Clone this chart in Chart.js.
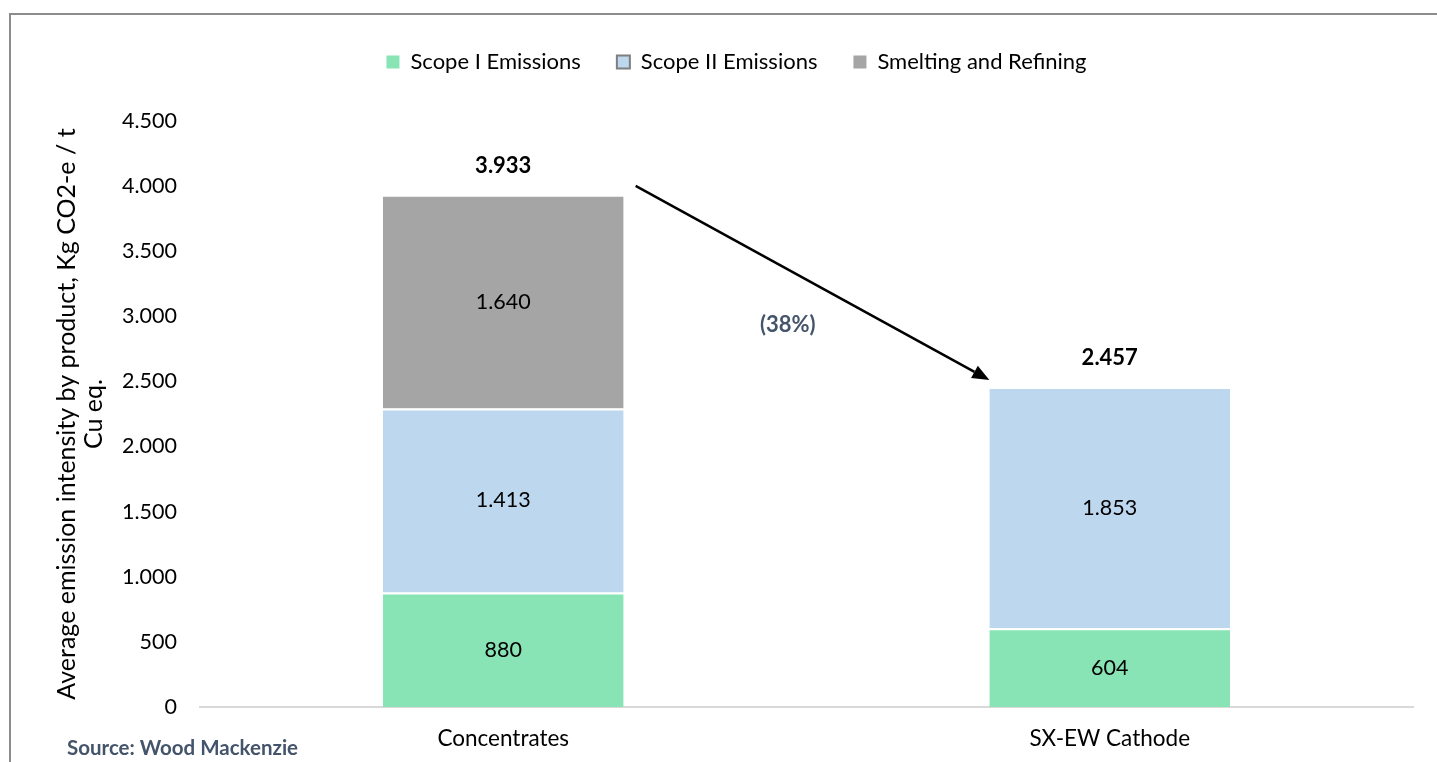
<!DOCTYPE html>
<html>
<head>
<meta charset="utf-8">
<script src="https://cdn.jsdelivr.net/npm/chart.js@4.4.1/dist/chart.umd.min.js"></script>
<style>
  html, body { margin: 0; padding: 0; background: #fff; overflow: hidden; }
  #frame { position: absolute; left: 9px; top: 13px; width: 1500px; height: 800px; border: 2px solid #8c8c8c; }
  #wrap { position: absolute; left: 0; top: 0; width: 1437px; height: 762px; }
  #source { position: absolute; left: 67px; top: 735px; font: bold 20.5px Lato, sans-serif; color: #44546a; }
</style>
</head>
<body>
<div id="frame"></div>
<div id="wrap"><canvas id="chart"></canvas></div>
<div id="source">Source: Wood Mackenzie</div>
<script>
// data
const categories = ['Concentrates', 'SX-EW Cathode'];
const seriesNames = ['Scope I Emissions', 'Scope II Emissions', 'Smelting and Refining'];
const scope1 = [880, 604];
const scope2 = [1413, 1853];
const smelting = [1640, null];
const yMin = 0, yMax = 4500, yStep = 500;
const yTitle = ['Average emission intensity by product, Kg CO2-e / t', 'Cu eq.'];

const FONT = 'Lato, "Open Sans", sans-serif';
const colors = ['#88e3b5', '#bdd7ee', '#a5a5a5'];

// 1234 -> "1.234"
function fmt(n) {
    return String(Math.round(n)).replace(/\B(?=(\d{3})+(?!\d))/g, '.');
}

const totals = categories.map((_, i) => (scope1[i] || 0) + (scope2[i] || 0) + (smelting[i] || 0));
const change = (totals[1] - totals[0]) / totals[0];

// value labels inside segments + bold totals above stacks
const labelsPlugin = {
    id: 'valueLabels',
    afterDatasetsDraw(chart) {
        const ctx = chart.ctx;
        const yScale = chart.scales.y;
        ctx.save();
        ctx.textAlign = 'center';
        ctx.textBaseline = 'middle';
        ctx.fillStyle = '#000';
        ctx.font = '21.5px ' + FONT;
        chart.data.datasets.forEach((ds, di) => {
            const meta = chart.getDatasetMeta(di);
            meta.data.forEach((bar, i) => {
                const v = ds.data[i];
                if (!v) return;
                ctx.fillText(fmt(v), bar.x, (bar.y + bar.base) / 2);
            });
        });
        ctx.font = 'bold 22px ' + FONT;
        const meta0 = chart.getDatasetMeta(0);
        totals.forEach((t, i) => {
            const x = meta0.data[i].x;
            ctx.fillText(fmt(t), x, yScale.getPixelForValue(t) - 29);
        });
        ctx.restore();
    }
};

// arrow from first stack to second with % change
const arrowPlugin = {
    id: 'changeArrow',
    afterDatasetsDraw(chart) {
        const ctx = chart.ctx;
        const yScale = chart.scales.y;
        const bars = chart.getDatasetMeta(0).data;
        const x0 = bars[0].x + bars[0].width / 2 + 12;
        const y0 = yScale.getPixelForValue(totals[0]) - 9;
        const x1 = bars[1].x - bars[1].width / 2;
        const y1 = yScale.getPixelForValue(totals[1]) - 7;
        const ang = Math.atan2(y1 - y0, x1 - x0);
        const headLen = 17, headW = 7;
        const bx = x1 - headLen * Math.cos(ang), by = y1 - headLen * Math.sin(ang);
        ctx.save();
        ctx.strokeStyle = '#000';
        ctx.lineWidth = 2.5;
        ctx.beginPath();
        ctx.moveTo(x0, y0);
        ctx.lineTo(bx, by);
        ctx.stroke();
        ctx.fillStyle = '#000';
        ctx.beginPath();
        ctx.moveTo(x1, y1);
        ctx.lineTo(bx + headW * Math.sin(ang), by - headW * Math.cos(ang));
        ctx.lineTo(bx - headW * Math.sin(ang), by + headW * Math.cos(ang));
        ctx.closePath();
        ctx.fill();
        // label under the line
        const t = 0.43;
        ctx.font = 'bold 22px ' + FONT;
        ctx.fillStyle = '#44546a';
        ctx.textAlign = 'center';
        ctx.textBaseline = 'middle';
        ctx.fillText('(' + Math.round(Math.abs(change) * 100) + '%)', x0 + t * (x1 - x0), y0 + t * (y1 - y0) + 56);
        ctx.restore();
    }
};

// legend block takes the space above the plot, nudged right like the original
const legendPlugin = {
    id: 'legendTweak',
    beforeInit(chart) {
        const origFit = chart.legend.fit;
        chart.legend.fit = function () {
            origFit.call(this);
            this.height = 121 - 15;
        };
    },
    afterLayout(chart) {
        chart.legend.left += 30;
        chart.legend.right += 30;
    }
};

const chart = new Chart(document.getElementById('chart'), {
    type: 'bar',
    data: {
        labels: categories,
        datasets: [scope1, scope2, smelting].map((d, i) => ({
            label: seriesNames[i],
            data: d,
            backgroundColor: colors[i],
            borderColor: '#ffffff',
            borderWidth: { top: 2 },
            borderSkipped: 'bottom',
            barPercentage: 1,
            categoryPercentage: 0.397
        }))
    },
    options: {
        responsive: true,
        maintainAspectRatio: false,
        animation: false,
        layout: { padding: { top: 15, right: 24, bottom: 0, left: 0 } },
        plugins: {
            tooltip: { enabled: false },
            legend: {
                position: 'top',
                labels: {
                    font: { family: FONT, size: 22 },
                    color: '#000',
                    boxWidth: 13,
                    boxHeight: 13,
                    padding: 36,
                    generateLabels(chart) {
                        const items = Chart.defaults.plugins.legend.labels.generateLabels(chart);
                        items.forEach((it, i) => {
                            it.strokeStyle = i === 1 ? '#7f7f7f' : it.fillStyle;
                            it.lineWidth = i === 1 ? 2 : 0;
                        });
                        return items;
                    }
                }
            }
        },
        scales: {
            x: {
                stacked: true,
                grid: { display: false },
                border: { color: '#d9d9d9', width: 2 },
                ticks: { font: { family: FONT, size: 22.5 }, color: '#000', padding: 10 },
                afterFit(scale) { scale.height = 55; }
            },
            y: {
                stacked: true,
                min: yMin,
                max: yMax,
                grid: { display: false },
                border: { display: false },
                ticks: {
                    stepSize: yStep,
                    font: { family: FONT, size: 21.5 },
                    color: '#000',
                    padding: 15,
                    callback: v => fmt(v)
                },
                title: {
                    display: true,
                    text: yTitle,
                    font: { family: FONT, size: 25, lineHeight: 1.06 },
                    color: '#000',
                    padding: { top: 54, bottom: 0 }
                },
                afterFit(scale) { scale.width = 200; }
            }
        }
    },
    plugins: [labelsPlugin, arrowPlugin, legendPlugin]
});
</script>
</body>
</html>
